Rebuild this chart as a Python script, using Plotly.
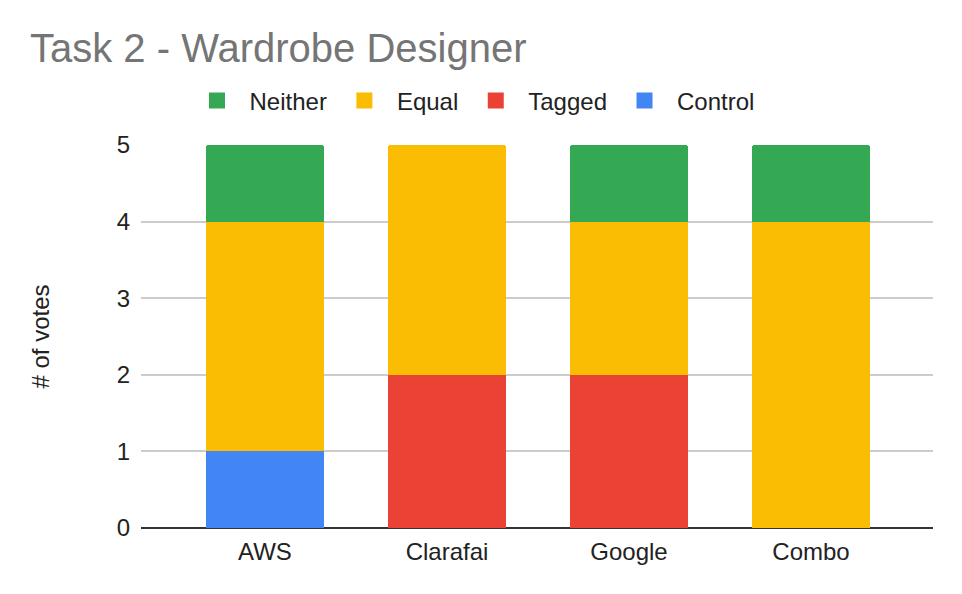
import plotly.graph_objects as go

# data
services = ["AWS", "Clarafai", "Google", "Combo"]
control = [1, 0, 0, 0]
tagged = [0, 2, 2, 0]
equal = [3, 3, 2, 4]
neither = [1, 0, 1, 1]

series = [
    ("Control", control, "#4285F4"),
    ("Tagged", tagged, "#EA4335"),
    ("Equal", equal, "#FBBC04"),
    ("Neither", neither, "#34A853"),
]

# page is drawn with a body margin, so shift everything up/left
off = 8
left, right = 141 - off, 29 + off
top, bottom = 145 - off, 66 + off
plot_w = 962 - left - right
plot_h = 594 - top - bottom

fig = go.Figure()
for name, vals, colour in series:
    fig.add_trace(go.Bar(x=services, y=vals, name=name, showlegend=False,
                         marker=dict(color=colour, line=dict(width=0)),
                         width=0.648))
# legend-only entries with big square swatches
for name, vals, colour in series:
    fig.add_trace(go.Scatter(x=[None], y=[None], name=name, mode="markers",
                             marker=dict(symbol="square", size=16, color=colour)))

fig.update_layout(
    barmode="stack",
    barcornerradius=3,
    width=962, height=594,
    margin=dict(l=left, r=right, t=top, b=bottom),
    paper_bgcolor="white", plot_bgcolor="white",
    font=dict(family="Liberation Sans, Arial", size=24, color="#222222"),
    title=dict(text="Task 2 - Wardrobe Designer", x=(30 - off) / 962, xanchor="left",
               y=1 - (48 - off) / 594, yanchor="middle",
               font=dict(size=40, color="#757575")),
    legend=dict(orientation="h", traceorder="reversed",
                xref="paper", yref="paper",
                x=(472 - off - left) / plot_w, xanchor="center",
                y=(594 - bottom - (101 - off)) / plot_h, yanchor="middle",
                font=dict(size=24, color="#222222"),
                itemwidth=55),
)
fig.update_xaxes(range=[-0.681, 3.670], showgrid=False, ticks="",
                 showline=False, tickangle=0, ticklabelstandoff=7,
                 tickfont=dict(size=24, color="#222222"))
fig.update_yaxes(range=[0, 5], dtick=1, showgrid=True, gridcolor="#cccccc",
                 gridwidth=1.5, zeroline=True, zerolinecolor="#333333",
                 zerolinewidth=2, ticks="", ticklabelstandoff=10,
                 title=dict(text="# of votes", standoff=60,
                            font=dict(size=24, color="#222222")),
                 tickfont=dict(size=24, color="#222222"))

fig.write_html("out.html")
